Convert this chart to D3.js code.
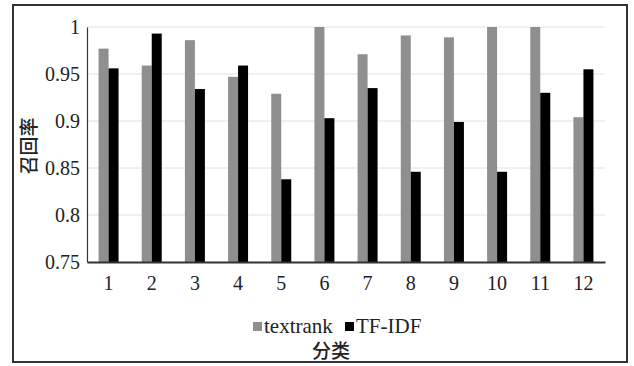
<!DOCTYPE html>
<html>
<head>
<meta charset="utf-8">
<script src="https://cdn.jsdelivr.net/npm/d3@7"></script>
<style>
  body { margin: 0; background: #fff; }
  svg { display: block; }
  .serif { font-family: "Liberation Serif", "DejaVu Serif", serif; }
  .cjk { font-family: "Noto Sans CJK SC", sans-serif; }
</style>
</head>
<body>
<div id="chart"></div>
<script>
var categories = ["1", "2", "3", "4", "5", "6", "7", "8", "9", "10", "11", "12"];
var seriesNames = ["textrank", "TF-IDF"];
var textrank = [0.977, 0.959, 0.986, 0.947, 0.929, 1.0, 0.971, 0.991, 0.989, 1.0, 1.0, 0.904];
var tfidf = [0.956, 0.993, 0.934, 0.959, 0.838, 0.903, 0.935, 0.846, 0.899, 0.846, 0.930, 0.955];
var yTicks = [0.75, 0.8, 0.85, 0.9, 0.95, 1];
var colors = ["#8f8f8f", "#000000"];

var width = 634, height = 366;
var plotL = 87, plotR = 605, plotT = 27, plotB = 262;   // plot area

var svg = d3.select("#chart").append("svg")
    .attr("width", width)
    .attr("height", height);

// outer frame
svg.append("rect")
    .attr("x", 13).attr("y", 5)
    .attr("width", 614).attr("height", 357)
    .attr("fill", "none")
    .attr("stroke", "#333")
    .attr("stroke-width", 2);

var x = d3.scaleBand().domain(categories).range([plotL, plotR]).paddingInner(0.537).paddingOuter(0.268);
var x1 = d3.scaleBand().domain(seriesNames).range([0, x.bandwidth()]);
var y = d3.scaleLinear().domain([0.75, 1]).range([plotB, plotT]);

// grid
svg.append("g").selectAll("line")
    .data(yTicks.filter(function (d) { return d > 0.75; }))
    .enter().append("line")
    .attr("x1", plotL).attr("x2", plotR)
    .attr("y1", function (d) { return y(d); })
    .attr("y2", function (d) { return y(d); })
    .attr("stroke", "#e2e2e2")
    .attr("stroke-width", 1);

// bars
var rows = categories.map(function (c, i) { return { cat: c, vals: [textrank[i], tfidf[i]] }; });
var groups = svg.append("g").selectAll("g")
    .data(rows)
    .enter().append("g")
    .attr("transform", function (d) { return "translate(" + x(d.cat) + ",0)"; });
groups.selectAll("rect")
    .data(function (d) { return d.vals.map(function (v, j) { return { name: seriesNames[j], v: v, j: j }; }); })
    .enter().append("rect")
    .attr("x", function (d) { return x1(d.name); })
    .attr("width", x1.bandwidth())
    .attr("y", function (d) { return y(d.v); })
    .attr("height", function (d) { return plotB - y(d.v); })
    .attr("fill", function (d) { return colors[d.j]; });

// axes
var yAxis = svg.append("g")
    .attr("transform", "translate(" + plotL + ",0)")
    .call(d3.axisLeft(y).tickValues(yTicks).tickSize(0).tickPadding(7).tickFormat(function (d) { return String(d); }));
yAxis.attr("font-family", null);
yAxis.select(".domain").attr("stroke", "#333").attr("stroke-width", 1.2);
yAxis.selectAll("text")
    .attr("class", "serif")
    .style("font-size", "20px")
    .attr("fill", "#222");

var xAxis = svg.append("g")
    .attr("transform", "translate(0," + plotB + ")")
    .call(d3.axisBottom(x).tickSize(0).tickPadding(14));
xAxis.attr("font-family", null);
xAxis.select(".domain").attr("stroke", "#333").attr("stroke-width", 2);
xAxis.selectAll("text")
    .attr("class", "serif")
    .style("font-size", "20px")
    .attr("fill", "#222");

// y title
svg.append("text")
    .attr("class", "cjk")
    .attr("transform", "translate(36,146) rotate(-90)")
    .attr("text-anchor", "middle")
    .style("font-size", "19px")
    .style("font-weight", 500)
    .attr("fill", "#222")
    .text("召回率");

// legend
var legend = svg.append("g").attr("transform", "translate(253,0)");
var lx = [0, 92];
seriesNames.forEach(function (name, i) {
    legend.append("rect")
        .attr("x", lx[i]).attr("y", 322)
        .attr("width", 9).attr("height", 9)
        .attr("fill", colors[i]);
    legend.append("text")
        .attr("class", "serif")
        .attr("x", lx[i] + 11).attr("y", 333)
        .style("font-size", "21px")
        .attr("fill", "#222")
        .text(name);
});

// x title
svg.append("text")
    .attr("class", "cjk")
    .attr("x", 331).attr("y", 358)
    .attr("text-anchor", "middle")
    .style("font-size", "19px")
    .style("font-weight", 500)
    .attr("fill", "#222")
    .text("分类");
</script>
</body>
</html>
